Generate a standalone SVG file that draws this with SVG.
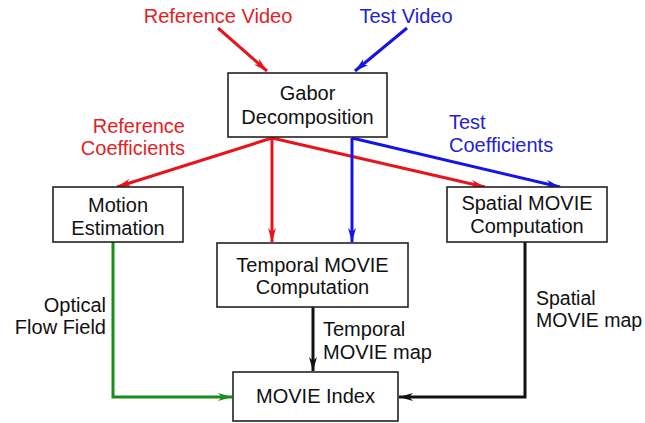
<svg xmlns="http://www.w3.org/2000/svg" width="645" height="423" viewBox="0 0 645 423">
<style>
.box{fill:#fff;stroke:#222;stroke-width:1.6}
text{font-family:"Liberation Sans",Arial,sans-serif;font-size:20px;fill:#111}
.c{text-anchor:middle}
.r{text-anchor:end}
.red{fill:#e31e24}
.blue{fill:#2222d4}
.ln{fill:none;stroke-width:3}
</style>
<defs>
<marker id="aR" viewBox="0 0 14 8" refX="14" refY="4" markerWidth="14" markerHeight="8" markerUnits="userSpaceOnUse" orient="auto"><path d="M0,0 L14,4 L0,8 L4,4 z" fill="#e8141c"/></marker>
<marker id="aB" viewBox="0 0 14 8" refX="14" refY="4" markerWidth="14" markerHeight="8" markerUnits="userSpaceOnUse" orient="auto"><path d="M0,0 L14,4 L0,8 L4,4 z" fill="#1414e6"/></marker>
<marker id="aG" viewBox="0 0 14 8" refX="14" refY="4" markerWidth="14" markerHeight="8" markerUnits="userSpaceOnUse" orient="auto"><path d="M0,0 L14,4 L0,8 L4,4 z" fill="#1a8c1a"/></marker>
<marker id="aK" viewBox="0 0 14 8" refX="14" refY="4" markerWidth="14" markerHeight="8" markerUnits="userSpaceOnUse" orient="auto"><path d="M0,0 L14,4 L0,8 L4,4 z" fill="#111"/></marker>
</defs>
<g id="connectors">
<line class="ln" x1="218" y1="28" x2="267" y2="71" stroke="#e8141c" marker-end="url(#aR)"/>
<line class="ln" x1="407" y1="28" x2="355" y2="71" stroke="#1414e6" marker-end="url(#aB)"/>
<line class="ln" x1="272" y1="138" x2="117" y2="187" stroke="#e8141c" marker-end="url(#aR)"/>
<line class="ln" x1="272" y1="138" x2="272" y2="242" stroke="#e8141c" marker-end="url(#aR)"/>
<line class="ln" x1="272" y1="138" x2="485" y2="187" stroke="#e8141c" marker-end="url(#aR)"/>
<line class="ln" x1="352" y1="138" x2="352" y2="242" stroke="#1414e6" marker-end="url(#aB)"/>
<line class="ln" x1="352" y1="138" x2="560" y2="187" stroke="#1414e6" marker-end="url(#aB)"/>
<polyline class="ln" points="113,242 113,397 232,397" stroke="#1a8c1a" marker-end="url(#aG)"/>
<polyline class="ln" points="525,242 525,397 399,397" stroke="#111" marker-end="url(#aK)"/>
<line class="ln" x1="313" y1="307" x2="313" y2="371" stroke="#111" marker-end="url(#aK)"/>
<text class="c red" x="218" y="23">Reference Video</text>
<text class="c blue" x="406" y="23">Test Video</text>
<text class="r red" x="185" y="133">Reference</text>
<text class="r red" x="185" y="155">Coefficients</text>
<text class="blue" x="449" y="129">Test</text>
<text class="blue" x="449" y="152">Coefficients</text>
<text class="r" x="106" y="312">Optical</text>
<text class="r" x="106" y="334">Flow Field</text>
<text x="323" y="336">Temporal</text>
<text x="323" y="359">MOVIE map</text>
<text x="536" y="305" style="font-size:19.5px">Spatial</text>
<text x="536" y="327" style="font-size:19.5px">MOVIE map</text>
</g>
<g id="gabor">
<rect class="box" x="228" y="73" width="159" height="64"/>
<text class="c" x="307.5" y="100">Gabor</text>
<text class="c" x="307.5" y="124">Decomposition</text>
</g>
<g id="motion">
<rect class="box" x="53" y="187" width="130" height="55"/>
<text class="c" x="118" y="212">Motion</text>
<text class="c" x="118" y="235">Estimation</text>
</g>
<g id="spatial">
<rect class="box" x="447" y="187" width="160" height="55"/>
<text class="c" x="527" y="210">Spatial MOVIE</text>
<text class="c" x="527" y="233">Computation</text>
</g>
<g id="temporal">
<rect class="box" x="217" y="243" width="191" height="64"/>
<text class="c" x="312.5" y="272">Temporal MOVIE</text>
<text class="c" x="312.5" y="294">Computation</text>
</g>
<g id="index">
<rect class="box" x="233" y="372" width="165" height="49"/>
<text class="c" x="315.5" y="403">MOVIE Index</text>
</g>
</svg>
